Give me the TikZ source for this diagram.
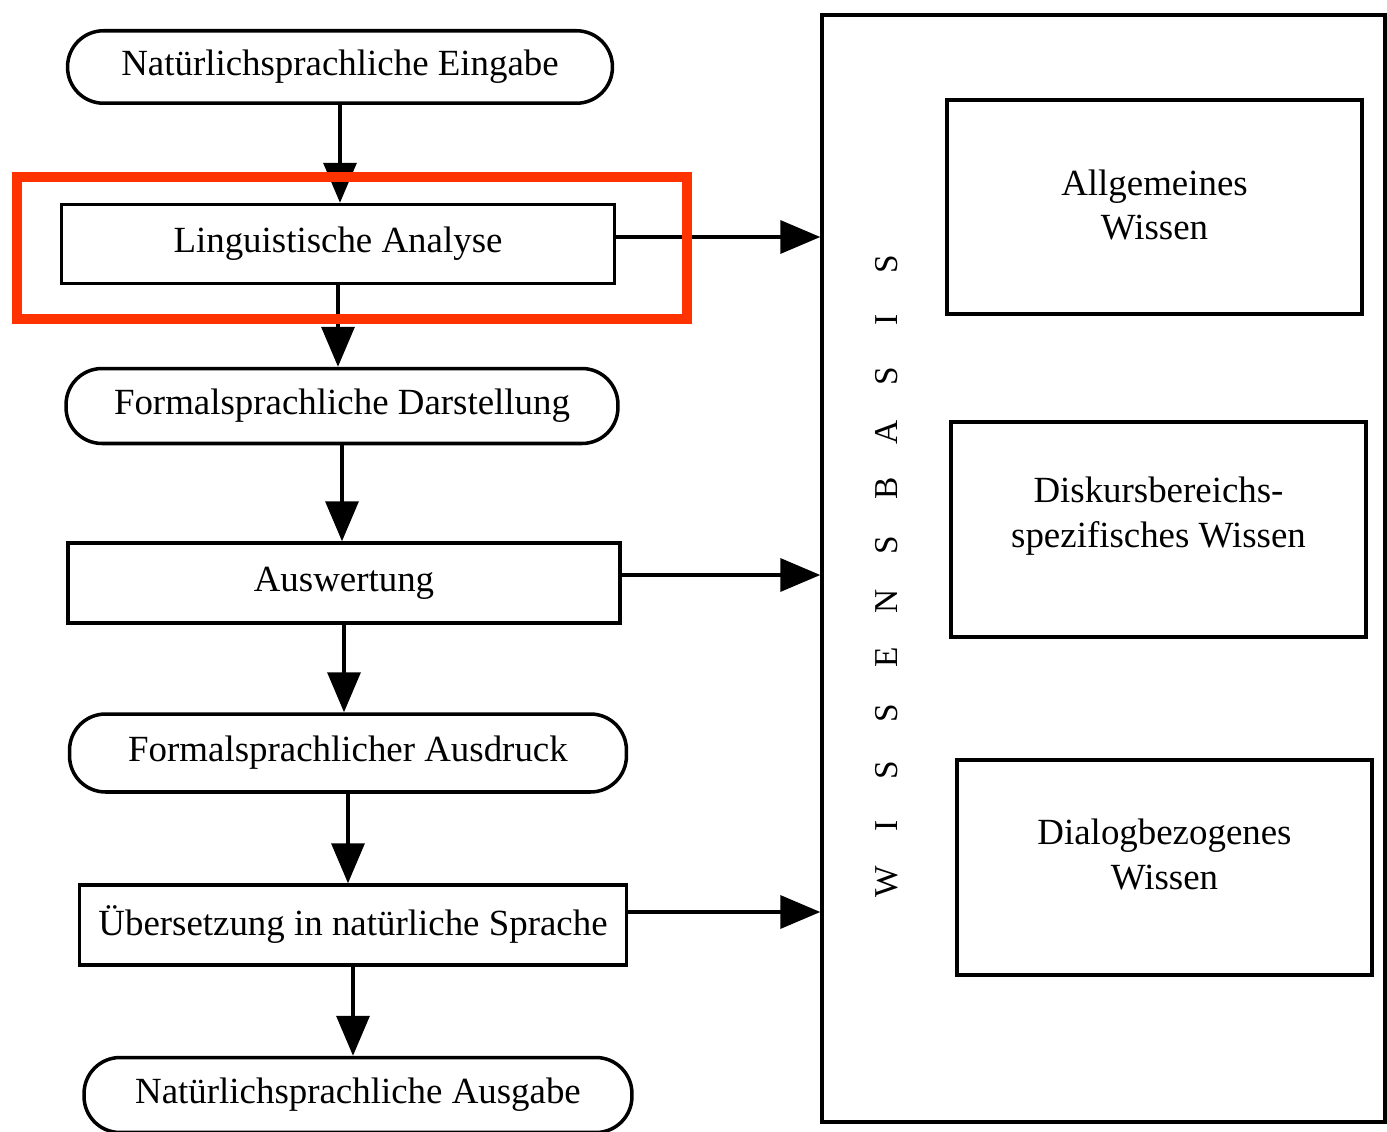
\documentclass[tikz,border=0pt]{standalone}
\usepackage{fontspec}
\setmainfont{Liberation Serif}
\usetikzlibrary{arrows.meta}
\definecolor{hlred}{RGB}{255,51,0}
\newcommand\wsl[1]{\makebox[32pt]{#1}}
\begin{document}
\begin{tikzpicture}[x=0.02cm,y=-0.02cm,
  txt/.style={font=\fontsize{21}{25.5}\selectfont, align=center},
  base/.style={draw, line width=2pt, txt, inner sep=0pt},
  stad/.style={base, rounded corners=0.72cm},
  pbox/.style={base},
  flow/.style={line width=2pt, -{Triangle[length=0.8cm,width=0.66cm]}},
  hlbox/.style={draw=hlred, line width=5.7pt}]
\useasboundingbox (0,0) rectangle (1387,1132);
% left column
\node[stad, minimum width=10.9cm, minimum height=1.45cm] (n1) at (340,67) {Natürlichsprachliche Eingabe};
\node[pbox, minimum width=11.06cm, minimum height=1.58cm] (n2) at (338,244) {Linguistische Analyse};
\node[stad, minimum width=11.04cm, minimum height=1.5cm] (n3) at (342,406) {Formalsprachliche Darstellung};
\node[pbox, minimum width=11.04cm, minimum height=1.6cm] (n4) at (344,583) {Auswertung};
\node[stad, minimum width=11.14cm, minimum height=1.56cm] (n5) at (348,753) {Formalsprachlicher Ausdruck};
\node[pbox, minimum width=10.94cm, minimum height=1.6cm] (n6) at (353,925) {Übersetzung in natürliche Sprache};
\node[stad, minimum width=10.96cm, minimum height=1.5cm] (n7) at (358,1095) {Natürlichsprachliche Ausgabe};
% knowledge base
\node[pbox, minimum width=11.26cm, minimum height=22.14cm] (kb) at (1103.5,568.5) {};
\node[pbox, minimum width=8.3cm, minimum height=4.28cm,
  label={[name=k1t, txt, yshift=0.04cm]center:Allgemeines\\Wissen}] (k1) at (1154.5,207) {};
\node[pbox, minimum width=8.3cm, minimum height=4.3cm,
  label={[name=k2t, txt, yshift=0.26cm]center:Diskursbereichs-\\spezifisches Wissen}] (k2) at (1158.5,529.5) {};
\node[pbox, minimum width=8.3cm, minimum height=4.3cm,
  label={[name=k3t, txt, yshift=0.26cm]center:Dialogbezogenes\\Wissen}] (k3) at (1164.5,867.5) {};
\node[rotate=90, font=\fontsize{19}{22}\selectfont, inner sep=0pt] (wb) at (887,573) {\wsl{W}\wsl{I}\wsl{S}\wsl{S}\wsl{E}\wsl{N}\wsl{S}\wsl{B}\wsl{A}\wsl{S}\wsl{I}\wsl{S}};
% vertical flow
\draw[flow] (n1.south) -- (n1.south |- n2.north);
\draw[flow] (n2.south) -- (n2.south |- n3.north);
\draw[flow] (n3.south) -- (n3.south |- n4.north);
\draw[flow] (n4.south) -- (n4.south |- n5.north);
\draw[flow] (n5.south) -- (n5.south |- n6.north);
\draw[flow] (n6.south) -- (n6.south |- n7.north);
% horizontal flow
\draw[flow] ([yshift=0.14cm]n2.east) -- ([yshift=0.14cm]n2.east -| kb.west);
\draw[flow] ([yshift=0.16cm]n4.east) -- ([yshift=0.16cm]n4.east -| kb.west);
\draw[flow] ([yshift=0.26cm]n6.east) -- ([yshift=0.26cm]n6.east -| kb.west);
% highlight
\draw[hlbox] (17,177) rectangle (687,319);
\end{tikzpicture}
\end{document}
